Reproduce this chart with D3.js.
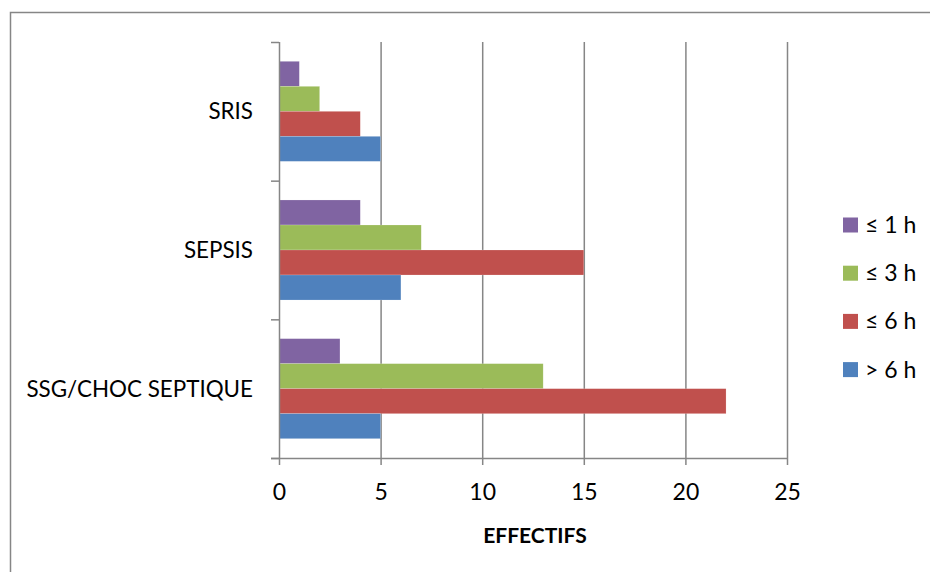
<!DOCTYPE html>
<html>
<head>
<meta charset="utf-8">
<script src="https://cdn.jsdelivr.net/npm/d3@7"></script>
<style>
  body { margin: 0; background: #fff; }
  svg { display: block; font-family: Lato, "Noto Sans", sans-serif; }
</style>
</head>
<body>
<svg id="chart" width="930" height="572"></svg>
<script>
const categories = ['SRIS', 'SEPSIS', 'SSG/CHOC SEPTIQUE'];
const seriesNames = ['≤ 1 h', '≤ 3 h', '≤ 6 h', '> 6 h'];
const seriesColors = ['#8064A2', '#9BBB59', '#C0504D', '#4F81BD'];
// values per category, in series order
const sris = [1, 2, 4, 5];
const sepsis = [4, 7, 15, 6];
const ssg = [3, 13, 22, 5];
const xTicks = [0, 5, 10, 15, 20, 25];
const xTitle = 'EFFECTIFS';

const rows = [sris, sepsis, ssg];
const gridColor = '#868686';

const svg = d3.select('#chart');

// outer frame
svg.append('rect')
  .attr('x', 10.5)
  .attr('y', 12.5)
  .attr('width', 940)
  .attr('height', 600)
  .attr('fill', 'none')
  .attr('stroke', gridColor)
  .attr('stroke-width', 1.5);

const plot = { left: 279, right: 787, top: 42, bottom: 458 };

const x = d3.scaleLinear()
  .domain([0, 25])
  .range([plot.left, plot.right]);

const y = d3.scaleBand()
  .domain(categories)
  .range([plot.top, plot.bottom])
  .padding(0);

const yInner = d3.scaleBand()
  .domain(seriesNames)
  .range([0, y.bandwidth()])
  .paddingInner(0)
  .paddingOuter(0.773);

// vertical gridlines
svg.append('g')
  .selectAll('line')
  .data(xTicks.slice(1))
  .join('line')
  .attr('x1', (d) => x(d) + 0.5)
  .attr('x2', (d) => x(d) + 0.5)
  .attr('y1', plot.top)
  .attr('y2', plot.bottom)
  .attr('stroke', gridColor)
  .attr('stroke-width', 1.5);

// bars
const groups = svg.append('g')
  .selectAll('g')
  .data(categories)
  .join('g')
  .attr('transform', (d) => `translate(0,${y(d)})`);

groups.selectAll('rect')
  .data((d, i) => rows[i].map((v, j) => ({ name: seriesNames[j], value: v, color: seriesColors[j] })))
  .join('rect')
  .attr('x', x(0))
  .attr('y', (d) => yInner(d.name))
  .attr('width', (d) => x(d.value) - x(0))
  .attr('height', yInner.bandwidth())
  .attr('fill', (d) => d.color)
  .attr('stroke', 'rgba(255,255,255,0.35)')
  .attr('stroke-width', 0.5);

// x axis
const xAxis = d3.axisBottom(x)
  .tickValues(xTicks)
  .tickSize(7)
  .tickPadding(19);

const gx = svg.append('g')
  .attr('transform', `translate(0,${plot.bottom})`)
  .call(xAxis);
gx.select('.domain').attr('stroke', gridColor).attr('stroke-width', 1.5)
  .attr('d', `M${plot.left - 8},0.5H${plot.right + 0.5}`);
gx.selectAll('.tick line').attr('stroke', gridColor).attr('stroke-width', 1.5);
gx.selectAll('.tick text')
  .attr('fill', '#000')
  .style('font-size', '23px')
  .style('font-family', 'Lato, "Noto Sans", sans-serif');

// y axis
const yTicksPos = categories.map((c) => y(c)).concat([plot.bottom]);
svg.append('line')
  .attr('x1', plot.left + 0.5)
  .attr('x2', plot.left + 0.5)
  .attr('y1', plot.top)
  .attr('y2', plot.bottom)
  .attr('stroke', gridColor)
  .attr('stroke-width', 1.5);
svg.append('g')
  .selectAll('line')
  .data(yTicksPos)
  .join('line')
  .attr('x1', plot.left - 8)
  .attr('x2', plot.left)
  .attr('y1', (d) => d + 0.5)
  .attr('y2', (d) => d + 0.5)
  .attr('stroke', gridColor)
  .attr('stroke-width', 1.5);

svg.append('g')
  .selectAll('text')
  .data(categories)
  .join('text')
  .attr('x', 253)
  .attr('y', (d) => y(d) + y.bandwidth() / 2)
  .attr('dy', '0.35em')
  .attr('text-anchor', 'end')
  .style('font-size', '22.4px')
  .text((d) => d);

// axis title
svg.append('text')
  .attr('x', 535)
  .attr('y', 543)
  .attr('text-anchor', 'middle')
  .style('font-size', '21px')
  .style('font-weight', 'bold')
  .text(xTitle);

// legend
const legend = svg.append('g')
  .selectAll('g')
  .data(seriesNames)
  .join('g')
  .attr('transform', (d, i) => `translate(843,${225 + i * 48.2})`);

legend.append('rect')
  .attr('x', 0)
  .attr('y', -7.5)
  .attr('width', 15)
  .attr('height', 15)
  .attr('fill', (d, i) => seriesColors[i]);

legend.append('text')
  .attr('x', 22)
  .attr('y', 0)
  .attr('dy', '0.35em')
  .style('font-size', '23px')
  .text((d) => d);
</script>
</body>
</html>
